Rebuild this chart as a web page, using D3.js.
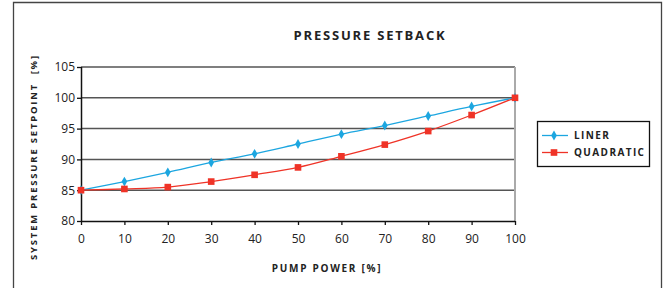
<!DOCTYPE html>
<html>
<head>
<meta charset="utf-8">
<script src="https://cdn.jsdelivr.net/npm/d3@7"></script>
<style>
  body { margin: 0; background: #fff; }
  svg { display: block; }
  .tick text { font-family: "Open Sans", sans-serif; font-size: 12px; fill: #222; }
  .lbl { font-family: "Open Sans", sans-serif; font-weight: bold; fill: #222; }
</style>
</head>
<body>
<div id="chart"></div>
<script>
// chart data
var pumpPower = [0, 10, 20, 30, 40, 50, 60, 70, 80, 90, 100];
var liner = [85, 86.4, 87.9, 89.5, 90.9, 92.5, 94.1, 95.5, 97.05, 98.6, 100];
var quadratic = [85, 85.2, 85.5, 86.4, 87.5, 88.7, 90.5, 92.4, 94.6, 97.2, 100];
var yTicks = [80, 85, 90, 95, 100, 105];
var seriesNames = ["LINER", "QUADRATIC"];

var W = 667, H = 288;
var plot = {left: 81, right: 515, top: 67, bottom: 221};

var svg = d3.select("#chart").append("svg")
    .attr("width", W)
    .attr("height", H);

// outer frame
svg.append("path")
    .attr("d", "M13.5,300V2.5H661.5V300")
    .attr("fill", "none")
    .attr("stroke", "#444")
    .attr("stroke-width", 1.3);

var x = d3.scaleLinear().domain([0, 100]).range([plot.left, plot.right]);
var y = d3.scaleLinear().domain([80, 105]).range([plot.bottom, plot.top]);

// grid lines
svg.append("g").selectAll("line")
    .data(yTicks.filter(function(d) { return d > 80; }))
    .enter().append("line")
    .attr("x1", plot.left)
    .attr("x2", plot.right)
    .attr("y1", function(d) { return y(d); })
    .attr("y2", function(d) { return y(d); })
    .attr("stroke", "#555")
    .attr("stroke-width", 1.5);

// right border of plot
svg.append("line")
    .attr("x1", plot.right).attr("x2", plot.right)
    .attr("y1", plot.top).attr("y2", plot.bottom)
    .attr("stroke", "#aaa")
    .attr("stroke-width", 2);

// axes
var yAxis = svg.append("g")
    .attr("transform", "translate(" + plot.left + ",0)")
    .call(d3.axisLeft(y).tickValues(yTicks).tickSize(4).tickPadding(2));
var xAxis = svg.append("g")
    .attr("transform", "translate(0," + plot.bottom + ")")
    .call(d3.axisBottom(x).tickValues(pumpPower).tickSize(4).tickPadding(9));
[xAxis, yAxis].forEach(function(a) {
    a.select(".domain").attr("stroke", "#111").attr("stroke-width", 1.5);
    a.selectAll(".tick line").attr("stroke", "#111").attr("stroke-width", 1.3);
});
yAxis.select(".domain").attr("d", "M0.5," + plot.top + "V" + plot.bottom);
xAxis.select(".domain").attr("d", "M" + plot.left + ",0.5H" + plot.right);

// series
var series = [
    {name: seriesNames[0], values: liner, color: "#1ca6e0", symbol: d3.symbolDiamond, size: 28},
    {name: seriesNames[1], values: quadratic, color: "#ef3327", symbol: d3.symbolSquare, size: 44}
];

var line = d3.line()
    .x(function(d, i) { return x(pumpPower[i]); })
    .y(function(d) { return y(d); })
    .curve(d3.curveCatmullRom);

series.forEach(function(s) {
    svg.append("path")
        .datum(s.values)
        .attr("d", line)
        .attr("fill", "none")
        .attr("stroke", s.color)
        .attr("stroke-width", 1.3);
    svg.append("g").selectAll("path")
        .data(s.values)
        .enter().append("path")
        .attr("transform", function(d, i) { return "translate(" + x(pumpPower[i]) + "," + y(d) + ")"; })
        .attr("d", d3.symbol().type(s.symbol).size(s.size))
        .attr("fill", s.color);
});

// titles
svg.append("text")
    .attr("class", "lbl")
    .attr("x", 370).attr("y", 40)
    .attr("text-anchor", "middle")
    .style("font-size", "13px")
    .style("letter-spacing", "1.8px")
    .text("PRESSURE SETBACK");

svg.append("text")
    .attr("class", "lbl")
    .attr("x", 327).attr("y", 272)
    .attr("text-anchor", "middle")
    .style("font-size", "10px")
    .style("letter-spacing", "1.7px")
    .text("PUMP POWER [%]");

svg.append("text")
    .attr("class", "lbl")
    .attr("transform", "translate(37,157)rotate(-90)")
    .attr("text-anchor", "middle")
    .style("font-size", "9.5px")
    .style("letter-spacing", "1.8px")
    .style("white-space", "pre")
    .text("SYSTEM PRESSURE SETPOINT  [%]");

// legend
var legend = svg.append("g").attr("transform", "translate(537,121)");
legend.append("rect")
    .attr("x", 0.5).attr("y", 0.5)
    .attr("width", 112).attr("height", 45)
    .attr("fill", "#fff")
    .attr("stroke", "#111")
    .attr("stroke-width", 1.3);
series.forEach(function(s, i) {
    var ly = 14.5 + i * 17;
    legend.append("line")
        .attr("x1", 5).attr("x2", 31)
        .attr("y1", ly).attr("y2", ly)
        .attr("stroke", s.color)
        .attr("stroke-width", 1.3);
    legend.append("path")
        .attr("transform", "translate(17," + ly + ")")
        .attr("d", d3.symbol().type(s.symbol).size(s.size))
        .attr("fill", s.color);
    legend.append("text")
        .attr("class", "lbl")
        .attr("x", 37).attr("y", ly + 3.5)
        .style("font-size", "10px")
        .style("letter-spacing", "1.4px")
        .text(s.name);
});
</script>
</body>
</html>
